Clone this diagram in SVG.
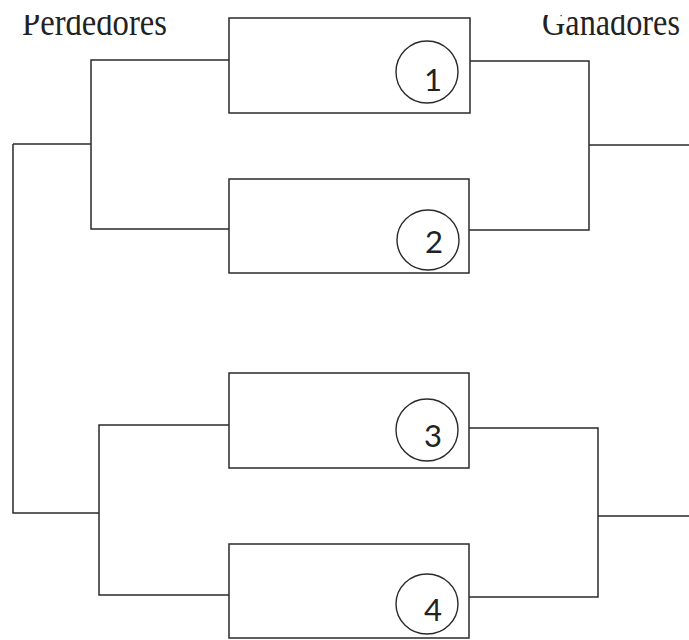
<svg xmlns="http://www.w3.org/2000/svg" width="689" height="640" viewBox="0 0 689 640">
<style>
.box{fill:#fff;stroke:#2a2a2a;stroke-width:1.5}
.circ{fill:none;stroke:#2a2a2a;stroke-width:1.4}
.num{font-family:Lato,"Open Sans",sans-serif;font-size:31px;fill:#222;text-anchor:middle}
.lbl{font-family:"Liberation Serif",serif;font-size:37px;fill:#222}
.con{fill:none;stroke:#2a2a2a;stroke-width:1.5}
</style>
<defs>
<clipPath id="clipTop"><rect x="0" y="15" width="689" height="625"/></clipPath>
</defs>
<rect width="689" height="640" fill="#fff"/>
<g id="labels" clip-path="url(#clipTop)">
<text class="lbl" x="22" y="35" textLength="145" lengthAdjust="spacingAndGlyphs">Perdedores</text>
<text class="lbl" x="542" y="35" textLength="138" lengthAdjust="spacingAndGlyphs">Ganadores</text>
</g>
<g id="connectors">
<polyline class="con" points="229,60 91,60 91,229 229,229"/>
<polyline class="con" points="13,144 91,144"/>
<polyline class="con" points="470,61 589,61 589,230 469,230"/>
<polyline class="con" points="589,145 689,145"/>
<polyline class="con" points="13,144 13,513 99,513"/>
<polyline class="con" points="229,425 99,425 99,595 229,595"/>
<polyline class="con" points="469,428 598,428 598,597 469,597"/>
<polyline class="con" points="598,516 689,516"/>
</g>
<g id="node1">
<rect class="box" x="229" y="18" width="241" height="95"/>
<ellipse class="circ" cx="427" cy="72" rx="31" ry="31"/>
<text class="num" x="433" y="91">1</text>
</g>
<g id="node2">
<rect class="box" x="229" y="179" width="240" height="94"/>
<ellipse class="circ" cx="428" cy="240" rx="31" ry="30"/>
<text class="num" x="434" y="253">2</text>
</g>
<g id="node3">
<rect class="box" x="229" y="373" width="240" height="95"/>
<ellipse class="circ" cx="427" cy="430" rx="31" ry="31"/>
<text class="num" x="433" y="447">3</text>
</g>
<g id="node4">
<rect class="box" x="229" y="544" width="240" height="94"/>
<ellipse class="circ" cx="427" cy="604" rx="31" ry="30"/>
<text class="num" x="433" y="621">4</text>
</g>
</svg>
